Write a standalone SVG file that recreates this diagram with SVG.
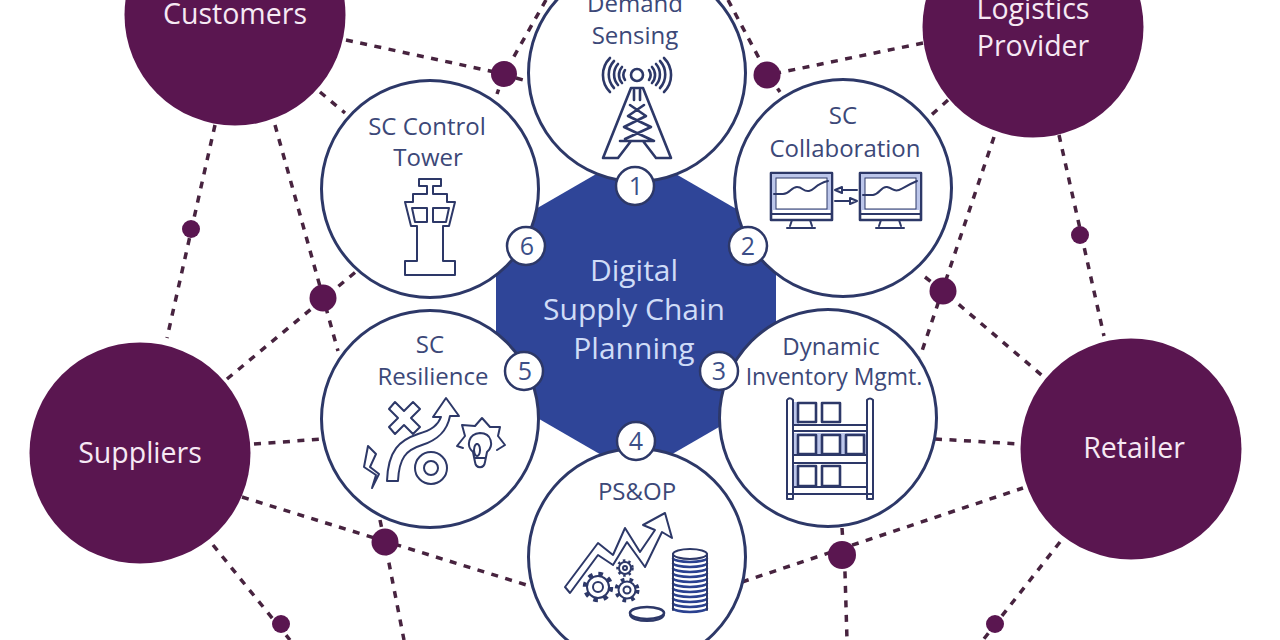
<svg xmlns="http://www.w3.org/2000/svg" width="1280" height="640" viewBox="0 0 1280 640">
<style>
text{font-family:"Open Sans","Noto Sans","DejaVu Sans",sans-serif;text-anchor:middle}
.o{fill:#5a1650}
.ot{fill:#f6e9f4;font-size:28.5px}
.i{fill:#fff;stroke:#2d3868;stroke-width:3}
.it{fill:#3c4878;font-size:24px}
.hx{fill:#2f4598}
.ht{fill:#cfdcf7;font-size:30px}
.b{fill:#fff;stroke:#2d3868;stroke-width:2.5}
.bt{fill:#3c4f88;font-size:25px}
.c{fill:none;stroke:#47233f;stroke-width:3.5;stroke-dasharray:7 7.5}
.d{fill:#5a1650}
.ic{fill:none;stroke:#2d3868;stroke-width:2;stroke-linejoin:round;stroke-linecap:round}
.icw{fill:#fff;stroke:#2d3868;stroke-width:2;stroke-linejoin:round}
.lb{fill:#bcc6ea;stroke:none}
.th{stroke-width:2.6}
</style>
<rect width="1280" height="640" fill="#fff"/>
<g id="connectors">
<path class="c" d="M346 40L504 74"/>
<path class="c" d="M546 0L504 74L497 94"/>
<path class="c" d="M516 78L527 81"/>
<path class="c" d="M320 92L345 113"/>
<path class="c" d="M215 125L167 338"/>
<path class="c" d="M275 125L338 351"/>
<path class="c" d="M227 379L358 270"/>
<path class="c" d="M254 444L323 439"/>
<path class="c" d="M242 497L533 587"/>
<path class="c" d="M380 520L388 558L404 640"/>
<path class="c" d="M213 545L290 640"/>
<path class="c" d="M923 43L768 75"/>
<path class="c" d="M728 0L768 75L780 92"/>
<path class="c" d="M948 100L928 118"/>
<path class="c" d="M994 137L920 357"/>
<path class="c" d="M925 277L943 291L1045 378"/>
<path class="c" d="M1059 135L1104 336"/>
<path class="c" d="M935 439L1020 444"/>
<path class="c" d="M742 582L1023 488"/>
<path class="c" d="M842 528L845 573L847 640"/>
<path class="c" d="M1060 542L983 640"/>
</g>
<g id="junctions">
<circle id="dot-a" class="d" cx="504" cy="74" r="13"/>
<circle id="dot-b" class="d" cx="323" cy="298" r="13.5"/>
<circle id="dot-c" class="d" cx="385" cy="542" r="13.5"/>
<circle id="dot-d" class="d" cx="281" cy="624" r="9"/>
<circle id="dot-e" class="d" cx="767" cy="75" r="13.5"/>
<circle id="dot-f" class="d" cx="943" cy="291" r="13.5"/>
<circle id="dot-g" class="d" cx="1080" cy="235" r="9"/>
<circle id="dot-h" class="d" cx="842" cy="555" r="14"/>
<circle id="dot-i" class="d" cx="995" cy="624" r="9"/>
<circle id="dot-j" class="d" cx="191" cy="229" r="9"/>
</g>
<g id="customers"><circle class="o" cx="235" cy="15" r="110.5"/><text class="ot" x="235" y="24">Customers</text></g>
<g id="logistics"><circle class="o" cx="1033" cy="27" r="110.5"/><text class="ot" x="1033" y="19">Logistics</text><text class="ot" x="1033" y="56">Provider</text></g>
<g id="suppliers"><circle class="o" cx="140" cy="453" r="110.5"/><text class="ot" x="140" y="463">Suppliers</text></g>
<g id="retailer"><circle class="o" cx="1131" cy="449" r="110.5"/><text class="ot" x="1134" y="458">Retailer</text></g>
<g id="hub"><polygon class="hx" points="636,151 776,232 776,394 636,475 496,394 496,232"/><text class="ht" x="634" y="281">Digital</text><text class="ht" x="634" y="320">Supply Chain</text><text class="ht" x="634" y="359">Planning</text></g>
<g id="demand-sensing"><circle class="i" cx="637" cy="73" r="108.5"/><text class="it" x="635" y="12">Demand</text><text class="it" x="635" y="44">Sensing</text>
<path class="ic th" d="M610 58A24 24 0 0 0 610 92M614 61A20 20 0 0 0 614 88M618 64A16 16 0 0 0 618 85M622 67A12 12 0 0 0 622 83M625 70A9 9 0 0 0 625 80"/>
<path class="ic th" d="M664 58A24 24 0 0 1 664 92M660 61A20 20 0 0 1 660 88M656 64A16 16 0 0 1 656 85M652 67A12 12 0 0 1 652 83M649 70A9 9 0 0 1 649 80"/>
<circle class="ic th" cx="637" cy="75" r="6"/>
<path class="ic th" d="M631 88L603 158H618L631 141H643L656 158H671L643 88ZM631 88H643M630 105L646 116L624 127L654 141L620 141M644 105L628 116L651 127L625 139M634 90V100M640 90V100"/>
</g>
<g id="sc-collaboration"><circle class="i" cx="843" cy="188" r="108.5"/><text class="it" x="843" y="124">SC</text><text class="it" x="845" y="157">Collaboration</text>
<rect class="ic th" x="771" y="173" width="61" height="47"/><rect class="lb" x="772" y="174" width="59" height="36"/><rect x="776" y="178" width="51" height="31" fill="#fff" stroke="#2d3868"/><path class="ic" d="M771 214H832M792 220L790 226M810 220L812 226M787 228H815"/>
<path class="ic" stroke-width="1.5" d="M774 194H783C790 194 791 187 797 187S803 192 809 191S815 184 828 181"/>
<rect class="ic th" x="860" y="173" width="61" height="47"/><rect class="lb" x="861" y="174" width="59" height="36"/><rect x="865" y="178" width="51" height="31" fill="#fff" stroke="#2d3868"/><path class="ic" d="M860 214H921M881 220L879 226M899 220L901 226M876 228H904"/>
<path class="ic" stroke-width="1.5" d="M863 195H873C880 194 881 186 887 187S893 192 899 190S905 186 917 181"/>
<path class="ic" d="M857 190H842M842 187L835 190L842 193ZM835 201H850M850 198L857 201L850 204Z"/>
</g>
<g id="dynamic-inventory"><circle class="i" cx="828" cy="418" r="108.5"/><text class="it" x="831" y="355">Dynamic</text><text class="it" x="834" y="385" style="font-size:23px">Inventory Mgmt.</text>
<rect class="lb" x="793" y="433" width="74" height="22"/><rect class="lb" x="793" y="465" width="6" height="22"/><rect class="lb" x="793" y="402" width="6" height="22"/>
<path class="ic" d="M793 400V498M787 400V499M787 499H793M867 400V498M873 400V499M867 499H873M788 399Q790 397 793 400M867 400Q870 397 873 400M793 425H867M793 431H867M793 455H867M793 463H867V487H793M793 494H867M787 494H873"/>
<g><rect class="icw th" x="798" y="403" width="18" height="19"/><rect class="icw th" x="822" y="403" width="18" height="19"/><rect class="icw th" x="798" y="435" width="18" height="19"/><rect class="icw th" x="822" y="435" width="18" height="19"/><rect class="icw th" x="846" y="435" width="18" height="19"/><rect class="icw th" x="798" y="466" width="18" height="20"/><rect class="icw th" x="822" y="466" width="18" height="20"/></g>
</g>
<g id="ps-op"><circle class="i" cx="637" cy="557" r="108.5"/><text class="it" x="637" y="500">PS&amp;OP</text>
<path class="icw" d="M565 587L598 543L613 555L625 528L640 552L655 530L643 525L665 513L672 538L662 532L645 567L627 542L613 565L598 555L570 593Z"/>
<circle cx="598" cy="587" r="13" fill="none" stroke="#2d3868" stroke-width="4.5" stroke-dasharray="4.5 5.7"/><circle class="icw" cx="598" cy="587" r="11"/><circle class="ic" cx="598" cy="587" r="5"/>
<circle cx="627" cy="590" r="10.5" fill="none" stroke="#2d3868" stroke-width="4" stroke-dasharray="3.6 5"/><circle class="icw" cx="627" cy="590" r="8.5"/><circle class="ic" cx="627" cy="590" r="3.5"/>
<circle cx="625" cy="568" r="7.5" fill="none" stroke="#2d3868" stroke-width="2.5" stroke-dasharray="2.5 3"/><circle class="icw" cx="625" cy="568" r="6"/><circle class="ic" cx="625" cy="568" r="2"/>
<path fill="none" stroke="#2a4190" stroke-width="2.6" d="M673 558A17 4 0 0 0 707 558M673 563A17 4 0 0 0 707 563M673 568A17 4 0 0 0 707 568M673 573A17 4 0 0 0 707 573M673 578A17 4 0 0 0 707 578M673 583A17 4 0 0 0 707 583M673 588A17 4 0 0 0 707 588M673 593A17 4 0 0 0 707 593M673 598A17 4 0 0 0 707 598M673 603A17 4 0 0 0 707 603M673 608A17 4 0 0 0 707 608"/>
<ellipse class="ic" cx="690" cy="554" rx="17" ry="5"/><path class="ic" d="M673 554V610M707 554V610"/>
<ellipse class="ic th" cx="647" cy="613" rx="17" ry="6"/><path class="ic" stroke-width="3.5" d="M630 615C632 623 662 623 664 615"/>
</g>
<g id="sc-resilience"><circle class="i" cx="430" cy="419" r="108.5"/><text class="it" x="430" y="353">SC</text><text class="it" x="433" y="385">Resilience</text>
<path class="ic" d="M395 402L404 411L413 402L420 409L411 418L420 427L413 434L404 425L395 434L389 427L398 418L389 409Z"/>
<path class="ic" d="M387 481C388 450 400 440 418 434C432 430 438 425 441 417L433 417L446 398L459 416L450 416C447 432 437 440 422 445C406 450 399 458 398 481Z"/>
<circle class="ic" cx="431" cy="468" r="16"/><circle class="ic" cx="431" cy="468" r="7"/>
<path class="ic" d="M368 446L376 454L370 467L379 474L372 488L376 475L364 467Z"/>
<path class="ic" d="M463 448L457 446L465 436L462 425L475 426L482 418L490 427L500 427L498 436L505 445L497 450"/>
<path class="ic" d="M473 452C466 446 468 434 480 433C492 433 494 446 487 452L485 462C484 469 476 469 475 462ZM475 458H485M477 444A3 6 0 1 0 477.1 444"/>
</g>
<g id="sc-control-tower"><circle class="i" cx="430" cy="189" r="108.5"/><text class="it" x="427" y="135">SC Control</text><text class="it" x="428" y="166">Tower</text>
<path class="ic" d="M419 179H441V186H433V194H447V202H455L449 226H443V261H455V275H405V261H417V226H411L405 202H413V194H427V186H419Z"/>
<path class="ic" d="M412 208H427V222H415ZM433 208H449L446 222H433Z"/>
</g>
<g id="badge-1"><circle class="b" cx="635" cy="186" r="19"/><text class="bt" x="636" y="195">1</text></g>
<g id="badge-2"><circle class="b" cx="748" cy="246" r="19"/><text class="bt" x="748" y="255">2</text></g>
<g id="badge-3"><circle class="b" cx="719" cy="371" r="19"/><text class="bt" x="719" y="380">3</text></g>
<g id="badge-4"><circle class="b" cx="636" cy="441" r="19"/><text class="bt" x="636" y="450">4</text></g>
<g id="badge-5"><circle class="b" cx="524" cy="371" r="19"/><text class="bt" x="525" y="380">5</text></g>
<g id="badge-6"><circle class="b" cx="526" cy="246" r="19"/><text class="bt" x="527" y="255">6</text></g>
</svg>
